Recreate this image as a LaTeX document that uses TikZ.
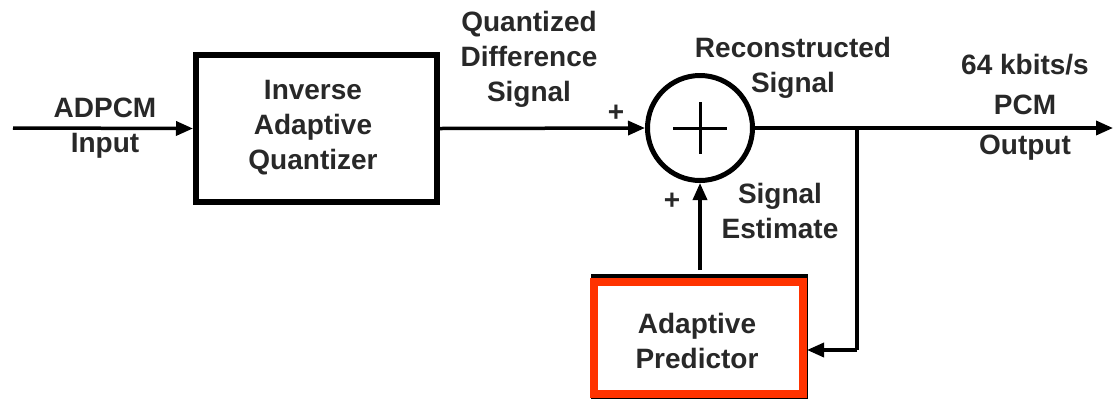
\documentclass[tikz,border=0pt]{standalone}
\usepackage{fontspec}
\setmainfont{Liberation Sans}
\usetikzlibrary{arrows.meta,calc}
\definecolor{txt}{RGB}{40,40,40}
\definecolor{predred}{RGB}{255,51,0}
\begin{document}
\begin{tikzpicture}[x=1pt,y=-1pt,
  lbl/.style={text=txt,font=\fontsize{28}{35}\selectfont\bfseries,align=center,inner sep=0pt},
  blockbox/.style={draw=black,line width=6pt,inner sep=0pt},
  wire/.style={draw=black,line width=3.5pt},
  arr/.style={wire,-{Triangle[length=17pt,width=14pt]}},
  ]
\useasboundingbox (0,0) rectangle (1113,400);
% blocks
\node[blockbox,minimum width=241pt,minimum height=147pt] (iaq) at (316.5,128.5) {};
\node[lbl] (iaqt) at (313,128) {Inverse\\Adaptive\\Quantizer};
\node[draw=black,line width=5pt,circle,minimum size=105pt,inner sep=0pt] (sum) at (700,128) {};
\draw[line width=3pt] ($(sum.center)+(-27,0)$) -- ($(sum.center)+(27,0)$);
\draw[line width=3pt] ($(sum.center)+(0,-26)$) -- ($(sum.center)+(0,26)$);
% predictor (black box behind red box)
\draw[line width=5pt] (593,276) rectangle (805.5,396);
\node[draw=predred,line width=8pt,minimum width=209pt,minimum height=112pt,inner sep=0pt,fill=white] (pred) at (598.5+100,338) {};
\node[lbl] (predt) at (697,341) {Adaptive\\Predictor};
% connectors
\coordinate (in) at (13,128);
\coordinate (out) at (1113,128);
\coordinate (br) at (857,128);
\coordinate (fb) at (857,350);
\draw[arr] (in) -- (iaq.west);
\draw[arr] (iaq.east) -- (sum.west);
\draw[arr] (sum.east) -- (out);
\draw[wire] (br) -- (fb);
\draw[arr] (fb) -- (fb -| pred.east);
\draw[arr] (pred.north -| sum.center) ++(0,-8) -- (sum.south);
% labels
\node[lbl] (l1) at (105,128) {ADPCM\\Input};
\node[lbl] (l2) at (529,59) {Quantized\\Difference\\Signal};
\node[lbl] (l3) at (793,68) {Reconstructed\\Signal};
\node[lbl] (l4) at (1025,107) {64 kbits/s\\[5pt]PCM\\[5pt]Output};
\node[lbl] (l5) at (780,211) {Signal\\Estimate};
\node[lbl] (p1) at (616,113) {+};
\node[lbl] (p2) at (672,201) {+};
\end{tikzpicture}
\end{document}
